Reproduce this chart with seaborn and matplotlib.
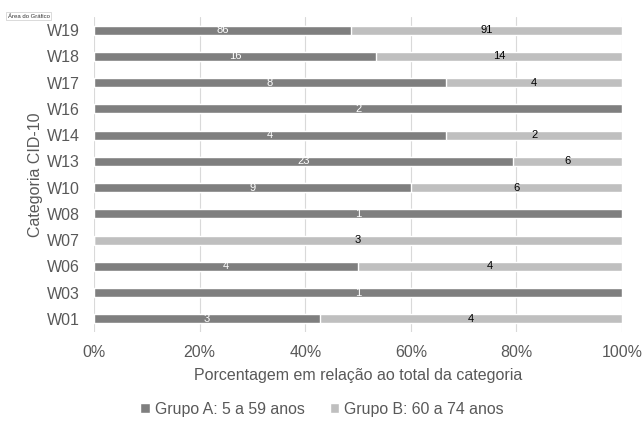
import matplotlib
matplotlib.use("Agg")
import matplotlib.pyplot as plt
from matplotlib.patches import Patch
import seaborn as sns
import pandas as pd
import numpy as np

categorias = ["W19", "W18", "W17", "W16", "W14", "W13", "W10", "W08", "W07", "W06", "W03", "W01"]
grupo_a = [86, 16, 8, 2, 4, 23, 9, 1, 0, 4, 1, 3]
grupo_b = [91, 14, 4, 0, 2, 6, 6, 0, 3, 4, 0, 4]
ticks_x = [0, 20, 40, 60, 80, 100]

cor_a = "#7f7f7f"
cor_b = "#bfbfbf"
cor_texto = "#595959"

sns.set_theme(style="white")
plt.rcParams["font.family"] = ["Liberation Sans", "DejaVu Sans"]

a = np.array(grupo_a, dtype=float)
b = np.array(grupo_b, dtype=float)
total = a + b
pct_a = 100 * a / total
pct_b = 100 * b / total

df = pd.DataFrame({"cat": categorias, "pa": pct_a, "ptotal": pct_a + pct_b})

fig = plt.figure(figsize=(6.44, 4.23), dpi=100)
ax = fig.add_axes([0.146, 0.215, 0.82, 0.745])

sns.barplot(data=df, y="cat", x="ptotal", color=cor_b, orient="h", width=0.34,
            saturation=1, ax=ax, order=categorias)
sns.barplot(data=df, y="cat", x="pa", color=cor_a, orient="h", width=0.34,
            saturation=1, ax=ax, order=categorias)

for i, cat in enumerate(categorias):
    if a[i] > 0:
        ax.text(pct_a[i] / 2, i, f"{grupo_a[i]}", ha="center", va="center",
                fontsize=8, color="white")
    if b[i] > 0:
        ax.text(pct_a[i] + pct_b[i] / 2, i, f"{grupo_b[i]}", ha="center", va="center",
                fontsize=8, color="black")

ax.set_xlim(0, 100)
ax.set_ylim(len(categorias) - 0.5, -0.5)
ax.set_xticks(ticks_x)
ax.set_xticklabels([f"{t}%" for t in ticks_x])
ax.xaxis.grid(True, color="#d9d9d9", linewidth=0.8)
ax.set_axisbelow(True)
for s in ax.spines.values():
    s.set_visible(False)
ax.tick_params(axis="both", length=0, labelsize=11.5, labelcolor=cor_texto)
ax.tick_params(axis="x", pad=9)
ax.tick_params(axis="y", pad=10)
ax.set_xlabel("Porcentagem em relação ao total da categoria", fontsize=11.5,
              color=cor_texto, labelpad=6)
ax.set_ylabel("Categoria CID-10", fontsize=11.5, color=cor_texto, labelpad=3)

handles = [Patch(facecolor=cor_a, label="Grupo A: 5 a 59 anos"),
           Patch(facecolor=cor_b, label="Grupo B: 60 a 74 anos")]
fig.legend(handles=handles, loc="center", bbox_to_anchor=(0.5, 0.032), ncol=2,
           frameon=False, fontsize=11.4, handlelength=0.6, handleheight=0.6,
           handletextpad=0.3, columnspacing=1.6, labelcolor=cor_texto)

fig.text(0.012, 0.962, "Área do Gráfico", fontsize=4.3, color="#333333", va="center",
         bbox=dict(boxstyle="square,pad=0.3", facecolor="white", edgecolor="#cccccc",
                   linewidth=0.5))

fig.savefig("out.png", dpi=100)
